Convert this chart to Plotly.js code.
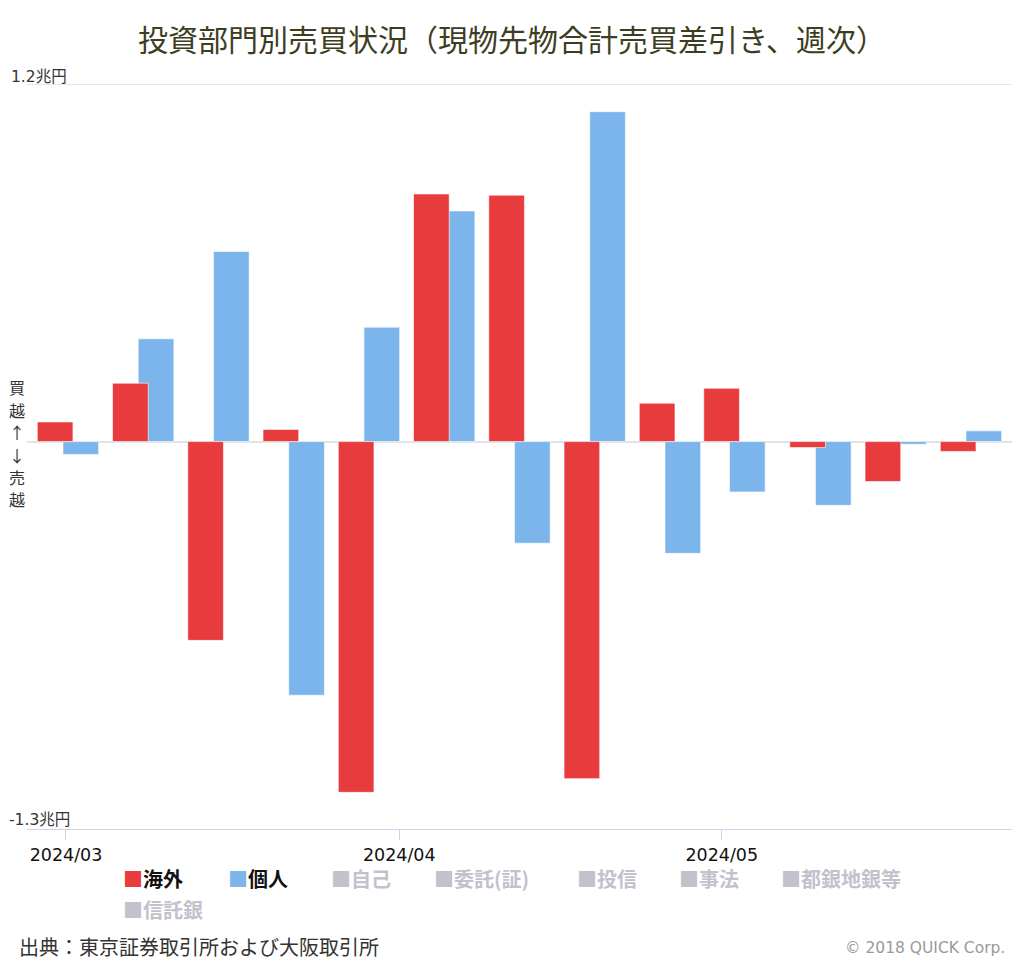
<!DOCTYPE html>
<html>
<head>
<meta charset="utf-8">
<script src="https://cdn.plot.ly/plotly-3.0.1.min.js"></script>
<style>
html,body{margin:0;padding:0;background:#fff;}
#chart{width:1024px;height:964px;}
</style>
</head>
<body>
<div id="chart"></div>
<script>
// Week ending dates
const weeks = ['2024-03-01','2024-03-08','2024-03-15','2024-03-22','2024-03-29','2024-04-05','2024-04-12','2024-04-19','2024-04-26','2024-05-02','2024-05-10','2024-05-17','2024-05-24'];
// 兆円
const overseas   = [0.066, 0.196, -0.667, 0.041, -1.177, 0.831, 0.827, -1.131, 0.129, 0.179, -0.020, -0.134, -0.033];
const individual = [-0.043, 0.345, 0.638, -0.851, 0.384, 0.774, -0.341, 1.107, -0.375, -0.169, -0.214, -0.009, 0.036];

const tickVals = ['2024-03-01','2024-04-01','2024-05-01'];
const tickText = ['2024/03','2024/04','2024/05'];

const legendItems = [
  {name:'海外', color:'#e83b3d', active:true},
  {name:'個人', color:'#7cb5ec', active:true},
  {name:'自己', color:'#c2c1cc', active:false},
  {name:'委託(証)', color:'#c2c1cc', active:false},
  {name:'投信', color:'#c2c1cc', active:false},
  {name:'事法', color:'#c2c1cc', active:false},
  {name:'都銀地銀等', color:'#c2c1cc', active:false},
  {name:'信託銀', color:'#c2c1cc', active:false}
];

const sideLabel = ['買','越','↑','↓','売','越'];

const DAY = 86400000;
const FONT = 'DejaVu Sans, Noto Sans CJK JP, sans-serif';
const JFONT = 'Noto Sans CJK JP, DejaVu Sans, sans-serif';

const traces = [
  {
    type:'bar', x:weeks, y:individual, name:'個人',
    marker:{color:'#7cb5ec', line:{color:'rgba(255,255,255,0.6)', width:1}},
    width:3.32*DAY, offset:-0.28*DAY, showlegend:false, hoverinfo:'x+y'
  },
  {
    type:'bar', x:weeks, y:overseas, name:'海外',
    marker:{color:'#e83b3d', line:{color:'rgba(255,255,255,0.6)', width:1}},
    width:3.32*DAY, offset:-2.67*DAY, showlegend:false, hoverinfo:'x+y'
  }
];

// plot area geometry in px for paper conversions
const L = 27, R = 1012, T = 84, B = 829;
const px = v => (v - L) / (R - L);
const py = v => (B - v) / (B - T);

const annotations = [
  {text:'1.2兆円', xref:'paper', yref:'paper', x:px(9), y:py(77), xanchor:'left', yanchor:'middle', showarrow:false, font:{family:FONT, size:15.5, color:'#333'}},
  {text:'-1.3兆円', xref:'paper', yref:'paper', x:px(7), y:py(820), xanchor:'left', yanchor:'middle', showarrow:false, font:{family:FONT, size:15.5, color:'#333'}},
  {text:'出典：東京証券取引所および大阪取引所', xref:'paper', yref:'paper', x:px(17), y:py(946), xanchor:'left', yanchor:'middle', showarrow:false, font:{family:JFONT, size:20, color:'#333'}},
  {text:'© 2018 QUICK Corp.', xref:'paper', yref:'paper', x:px(1007), y:py(948), xanchor:'right', yanchor:'middle', showarrow:false, font:{family:FONT, size:15.5, color:'#999'}}
];

const sideY = [387, 410, 432, 455, 477, 499];
sideLabel.forEach((c, i) => {
  annotations.push({text:c, xref:'paper', yref:'paper', x:px(17), y:py(sideY[i]), xanchor:'center', yanchor:'middle', showarrow:false, font:{family:JFONT, size:16, color:'#333'}});
});

const legendX = [121, 226, 329, 432, 575, 677, 779, 121];
const legendY = [879, 879, 879, 879, 879, 879, 879, 909];
legendItems.forEach((it, i) => {
  const tc = it.active ? '#111' : '#c2c1cc';
  annotations.push({
    text:'<span style="color:' + it.color + '">■</span><b>' + it.name + '</b>',
    xref:'paper', yref:'paper', x:px(legendX[i]), y:py(legendY[i]),
    xanchor:'left', yanchor:'middle', showarrow:false,
    font:{family:JFONT, size:20, color:tc}
  });
});

const layout = {
  width:1024, height:964,
  margin:{l:L, r:1024-R, t:T, b:964-B},
  paper_bgcolor:'#fff', plot_bgcolor:'#fff',
  title:{text:'投資部門別売買状況（現物先物合計売買差引き、週次）', x:0.5, xanchor:'center', y:1-40/964, yanchor:'middle',
         font:{family:JFONT, size:30, color:'#3d3d22'}},
  barmode:'overlay',
  bargap:0,
  xaxis:{
    type:'date', range:['2024-02-26 09:00','2024-05-28 00:00'],
    tickmode:'array', tickvals:tickVals, ticktext:tickText,
    ticks:'outside', ticklen:10, tickcolor:'#ccd6eb', tickwidth:1,
    showline:true, linecolor:'#ccd6eb', linewidth:1,
    showgrid:false, zeroline:false,
    tickfont:{family:FONT, size:17.5, color:'#111'}, fixedrange:true
  },
  yaxis:{
    range:[-1.3, 1.2], tickmode:'array', tickvals:[1.2],
    showticklabels:false, showgrid:true, gridcolor:'#e6e6e6', gridwidth:1,
    zeroline:true, zerolinecolor:'#e3e3e3', zerolinewidth:2,
    showline:false, fixedrange:true
  },
  shapes:[
    {type:'line', xref:'paper', yref:'y', x0:0, x1:1, y0:1.2, y1:1.2, line:{color:'#e6e6e6', width:2}, layer:'below'}
  ],
  showlegend:false,
  annotations:annotations
};

Plotly.newPlot('chart', traces, layout, {displayModeBar:false, staticPlot:true});
</script>
</body>
</html>
